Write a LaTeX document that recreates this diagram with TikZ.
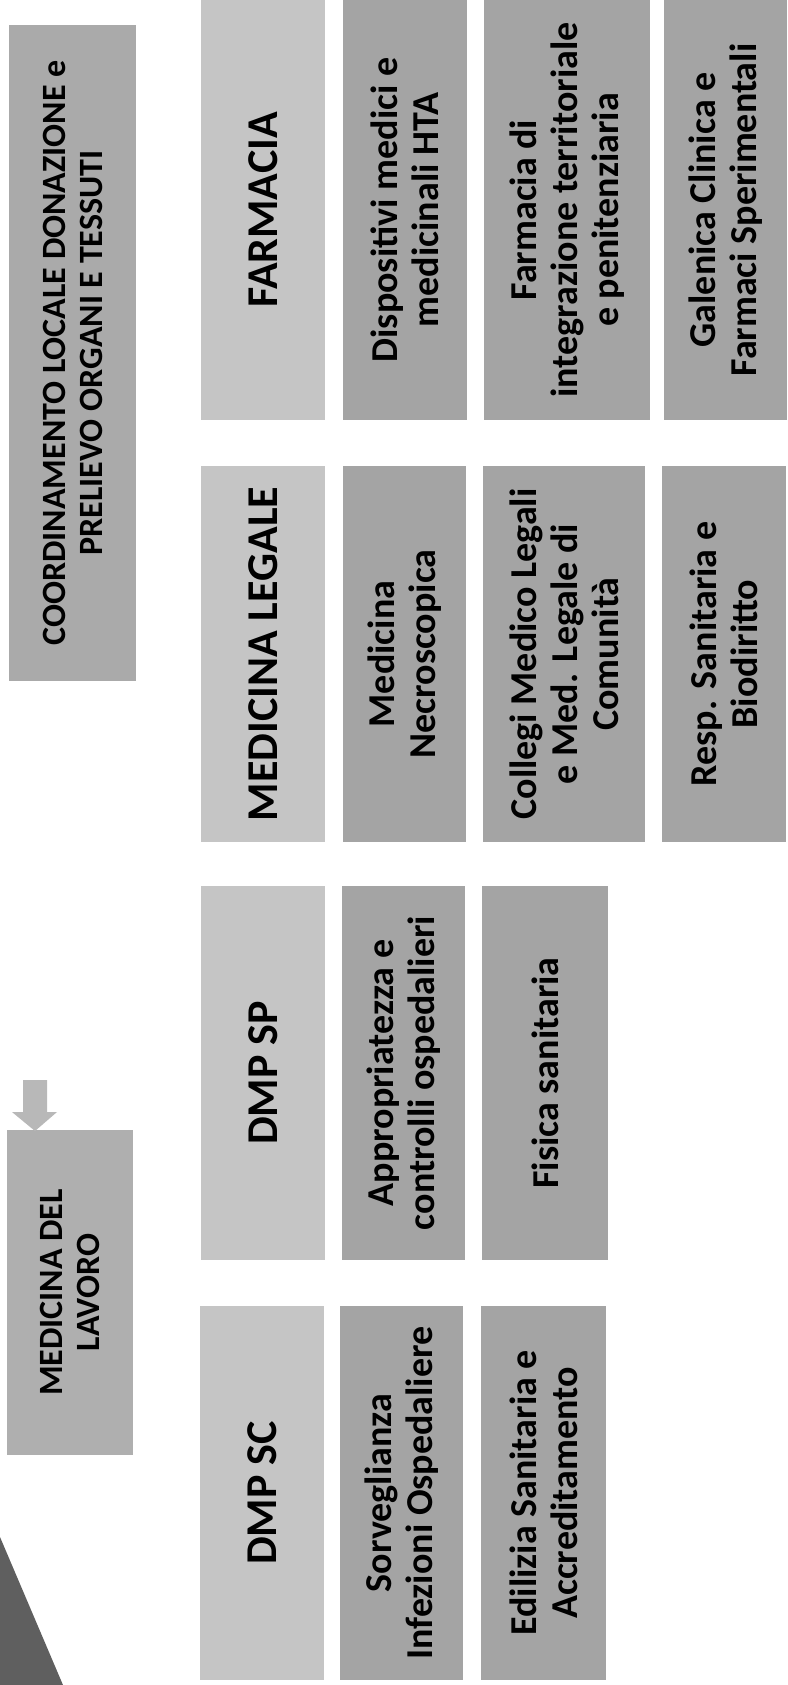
\documentclass[tikz,border=0pt]{standalone}
\usepackage{fontspec}
\setmainfont{Carlito}
\definecolor{hdrgray}{RGB}{197,197,197}
\definecolor{subgray}{RGB}{164,164,164}
\definecolor{coordgray}{RGB}{170,170,170}
\definecolor{mdlgray}{RGB}{175,175,175}
\definecolor{arrgray}{RGB}{184,184,184}
\definecolor{triangray}{RGB}{95,95,95}
\begin{document}
\begin{tikzpicture}[x=1pt,y=-1pt,
  box/.style={rotate=90, inner sep=0pt, outer sep=0pt, align=center, text=black,
    font=\bfseries\fontsize{38}{41}\selectfont},
  hdr/.style={box, fill=hdrgray, font=\bfseries\fontsize{44}{48}\selectfont},
  sub/.style={box, fill=subgray},
  side/.style={box, font=\bfseries\fontsize{34}{37}\selectfont}]
\fill[white] (0,0) rectangle (787,1685);
\useasboundingbox (0,0) rectangle (787,1685);

% left column
\node[side, fill=coordgray, minimum width=656pt, minimum height=127pt] (coord) at (72.5,353)
  {COORDINAMENTO LOCALE DONAZIONE e\\PRELIEVO ORGANI E TESSUTI};
\node[side, fill=mdlgray, minimum width=325pt, minimum height=126pt] (mdl) at (70,1292.5)
  {MEDICINA DEL\\LAVORO};

% row 1
\node[hdr, minimum width=420pt, minimum height=124pt] (farm) at (263,210) {FARMACIA};
\node[sub, minimum width=420pt, minimum height=124pt] (disp) at (405,210) {Dispositivi medici e\\medicinali HTA};
\node[sub, minimum width=420pt, minimum height=166pt] (fint) at (567,210) {Farmacia di\\integrazione territoriale\\e penitenziaria};
\node[sub, minimum width=420pt, minimum height=123pt] (gal) at (725.5,210) {Galenica Clinica e\\Farmaci Sperimentali};

% row 2
\node[hdr, minimum width=376pt, minimum height=124pt] (ml) at (263,654) {MEDICINA LEGALE};
\node[sub, minimum width=376pt, minimum height=123pt] (necro) at (404.5,654) {Medicina\\Necroscopica};
\node[sub, minimum width=376pt, minimum height=162pt] (coll) at (564,654) {Collegi Medico Legali\\e Med. Legale di\\Comunità};
\node[sub, minimum width=376pt, minimum height=124pt] (resp) at (724,654) {Resp. Sanitaria e\\Biodiritto};

% row 3
\node[hdr, minimum width=374pt, minimum height=124pt] (dmpsp) at (263,1073) {DMP SP};
\node[sub, minimum width=374pt, minimum height=123pt] (appr) at (403.5,1073) {Appropriatezza e\\controlli ospedalieri};
\node[sub, minimum width=374pt, minimum height=126pt] (fis) at (545,1073) {Fisica sanitaria};

% row 4
\node[hdr, minimum width=374pt, minimum height=124pt] (dmpsc) at (262,1493) {DMP SC};
\node[sub, minimum width=374pt, minimum height=123pt] (sorv) at (401.5,1493) {Sorveglianza\\Infezioni Ospedaliere};
\node[sub, minimum width=374pt, minimum height=125pt] (edil) at (543.5,1493) {Edilizia Sanitaria e\\Accreditamento};

% block arrow into Medicina del Lavoro
\fill[arrgray] (23,1080) -- (47,1080) -- (47,1112) -- (57,1112) -- (35,1131) -- (12,1112) -- (23,1112) -- cycle;

% dark corner triangle
\fill[triangray] (0,1537) -- (63,1685) -- (0,1685) -- cycle;
\end{tikzpicture}
\end{document}
